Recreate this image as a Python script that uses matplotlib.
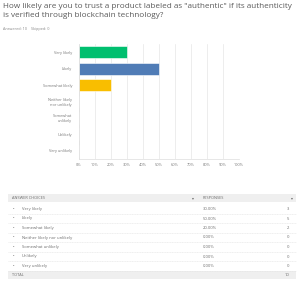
import matplotlib
matplotlib.use("Agg")
import matplotlib.pyplot as plt
from matplotlib.patches import Rectangle

plt.rcParams['font.family'] = ['Open Sans', 'DejaVu Sans']

title = 'How likely are you to trust a product labeled as "authentic" if its authenticity\nis verified through blockchain technology?'
categories = ["Very likely", "Likely", "Somewhat likely", "Neither likely\nnor unlikely",
              "Somewhat\nunlikely", "Unlikely", "Very unlikely"]
table_labels = ["Very likely", "Likely", "Somewhat likely", "Neither likely nor unlikely",
                "Somewhat unlikely", "Unlikely", "Very unlikely"]
percents = [30, 50, 20, 0, 0, 0, 0]
counts = [3, 5, 2, 0, 0, 0, 0]
total = 10
bar_colors = ["#00bf6f", "#507cb6", "#f9be00", "#6bc8cd", "#ff8b4f", "#7d5ba6", "#d25f90"]
xticks = list(range(0, 101, 10))

W, H = 300, 286
fig = plt.figure(figsize=(W / 100, H / 100), dpi=100)

def fx(px):
    return px / W

def fy(py):
    return 1 - py / H

txt = "#6b6b6b"
fig.text(fx(3), fy(3), title, fontsize=5.9, color="#5a5a5a", va="top", ha="left", linespacing=1.4)
fig.text(fx(3), fy(29), "Answered: 10    Skipped: 0", fontsize=2.7, color="#888888", va="center", ha="left")

# bar chart
ax = fig.add_axes([fx(79), fy(159), fx(239) - fx(79), fy(44) - fy(159)])
y = list(range(len(categories)))
ax.barh(y, percents, height=0.72, color=bar_colors[:len(percents)], edgecolor="white", linewidth=0.4)
ax.set_xlim(0, 100)
ax.set_ylim(len(categories) - 0.5, -0.5)
ax.set_xticks(xticks)
ax.set_xticklabels([f"{v}%" for v in xticks], fontsize=2.8, color="#777777")
ax.set_yticks(y)
ax.set_yticklabels(categories, fontsize=2.8, color="#777777", linespacing=1.3)
ax.tick_params(length=0, pad=3)
ax.tick_params(axis="y", pad=5)
ax.xaxis.grid(True, color="#e6e6e6", linewidth=0.5)
ax.set_axisbelow(True)
for s in ["top", "right"]:
    ax.spines[s].set_visible(False)
ax.spines["left"].set_color("#dddddd")
ax.spines["left"].set_linewidth(0.5)
ax.spines["bottom"].set_color("#dddddd")
ax.spines["bottom"].set_linewidth(0.5)

# table
tl, tr = 8, 296
fig.add_artist(Rectangle((fx(tl), fy(202)), fx(tr) - fx(tl), fy(194) - fy(202),
                         transform=fig.transFigure, color="#efefef", lw=0))
fig.text(fx(12), fy(198), "ANSWER CHOICES", fontsize=2.8, color=txt, va="center")
fig.text(fx(193), fy(198), "▾", fontsize=2.8, color=txt, va="center", ha="center")
fig.text(fx(203), fy(198), "RESPONSES", fontsize=2.8, color=txt, va="center")
fig.text(fx(292), fy(198), "▾", fontsize=2.8, color=txt, va="center", ha="center")

row_h = 9.5
y0 = 209
for i, (lab, p, c) in enumerate(zip(table_labels, percents, counts)):
    yy = y0 + i * row_h
    fig.text(fx(13), fy(yy), "•", fontsize=3, color="#555555", va="center", ha="center")
    fig.text(fx(22), fy(yy), lab, fontsize=3.0, color=txt, va="center")
    fig.text(fx(203), fy(yy), f"{p:.2f}%", fontsize=3.0, color=txt, va="center")
    fig.text(fx(289), fy(yy), str(c), fontsize=3.0, color=txt, va="center", ha="right")
    ly = yy + row_h / 2
    fig.add_artist(plt.Line2D([fx(tl), fx(tr)], [fy(ly), fy(ly)], transform=fig.transFigure,
                              color="#e2e2e2", lw=0.4, ls=(0, (2, 1))))

ty = y0 + len(table_labels) * row_h - 0.5
fig.add_artist(Rectangle((fx(tl), fy(ty + 4)), fx(tr) - fx(tl), fy(ty - 4) - fy(ty + 4),
                         transform=fig.transFigure, color="#efefef", lw=0))
fig.text(fx(12), fy(ty), "TOTAL", fontsize=2.8, color=txt, va="center")
fig.text(fx(289), fy(ty), str(total), fontsize=3.0, color=txt, va="center", ha="right")

fig.savefig("out.png", dpi=100, facecolor="white")
